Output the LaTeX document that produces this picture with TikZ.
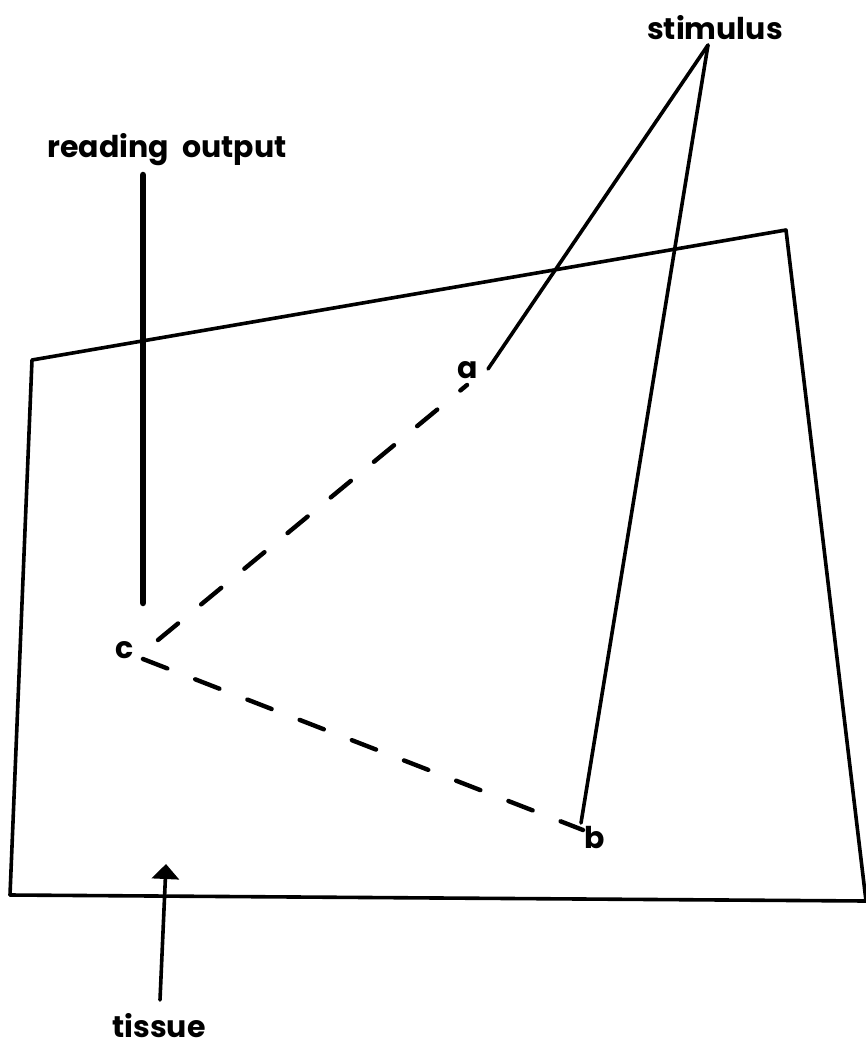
\documentclass[tikz,border=0pt]{standalone}
\usepackage{fontspec}
\setmainfont{Poppins}
\usetikzlibrary{arrows.meta}
\tikzset{
  lbl/.style={font=\fontsize{30}{33}\selectfont\bfseries, inner sep=0pt},
  edge/.style={line width=3.6pt, line cap=round, line join=round},
  cut/.style={line width=4.4pt, line cap=round, dash pattern=on 26pt off 30pt}
}
\begin{document}
\begin{tikzpicture}[x=1pt, y=-1pt]
\useasboundingbox (0,0) rectangle (865,1048);
% Tissue outline
\coordinate (tl) at (32,360);
\coordinate (tr) at (786,230);
\coordinate (br) at (866,901);
\coordinate (bl) at (10,895);
\draw[edge] (bl) -- (tl) -- (tr) -- (br);
\draw[edge] (bl) -- (br);

% Labels
\node[lbl] (stim) at (715,28) {stimulus};
\node[lbl] (readout) at (167,150) {reading\hspace{0.45em}output};
\node[lbl] (tissue) at (159,1026) {tissue};
\node[lbl] (a) at (468,370) {a};
\node[lbl] (b) at (595,838) {b};
\node[lbl] (c) at (125,650) {c};

% Stimulus leads
\coordinate (apex) at (708,45);
\coordinate (atip) at (488,369);
\coordinate (btip) at (581,823);
\draw[edge] (apex) -- (atip);
\draw[edge] (apex) -- (btip);

% Recording lead
\coordinate (rtop) at (143,175);
\coordinate (rbot) at (143,603);
\draw[line width=6.5pt, line cap=round] (rtop) -- (rbot);

% Conduction paths
\coordinate (ca) at (158,640);
\coordinate (ac) at (467,385);
\coordinate (cb) at (143,659);
\coordinate (bc) at (583,830);
\draw[cut] (ca) -- (ac);
\draw[cut] (cb) -- (bc);

% Pointer to tissue
\coordinate (tail) at (160,1000);
\coordinate (head) at (166,864);
\draw[edge, -{Triangle[width=27pt,length=15pt]}] (tail) -- (head);
\end{tikzpicture}
\end{document}
